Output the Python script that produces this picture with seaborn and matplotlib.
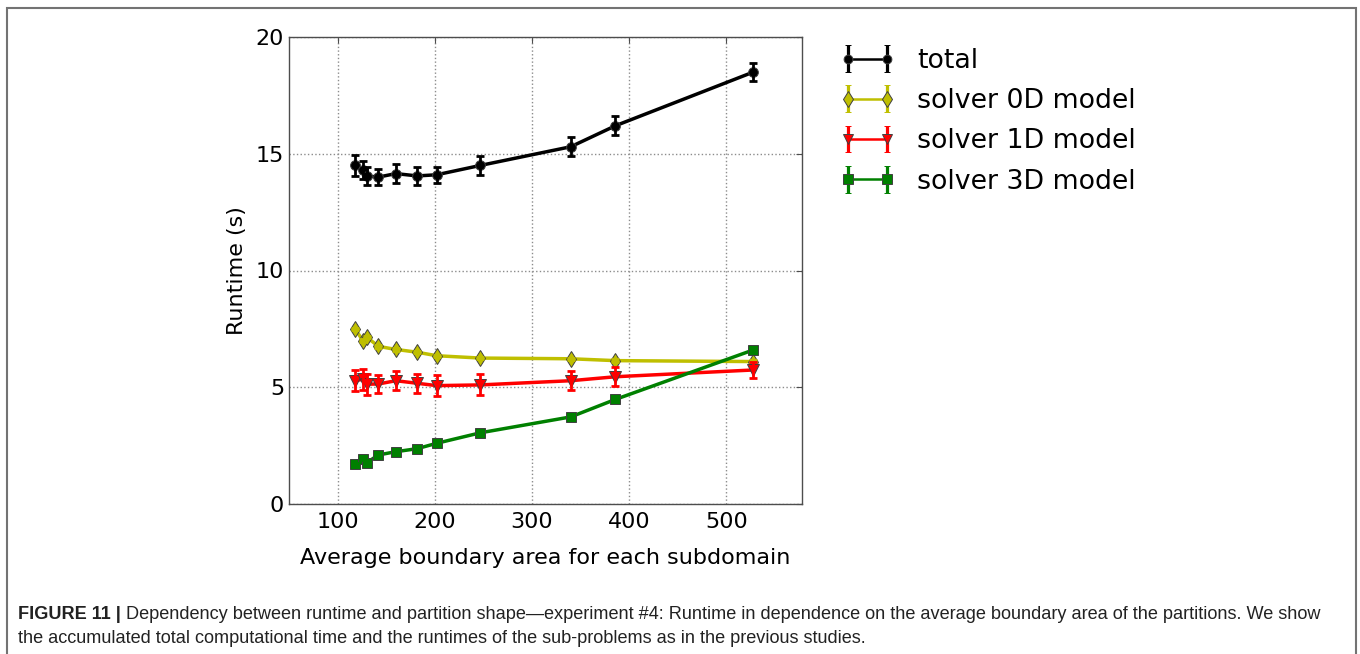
import numpy as np
import pandas as pd
import matplotlib
matplotlib.use("Agg")
import matplotlib.pyplot as plt
import seaborn as sns
from matplotlib.patches import Rectangle

# ================= 数据 =================
area = [118, 126, 130, 142, 160, 182, 202, 247, 340, 386, 528]

total = [14.5, 14.3, 14.05, 14.0, 14.15, 14.05, 14.1, 14.5, 15.3, 16.2, 18.5]
total_err = [0.45, 0.4, 0.4, 0.35, 0.4, 0.4, 0.35, 0.4, 0.4, 0.4, 0.4]

solver_0d = [7.5, 7.0, 7.15, 6.75, 6.62, 6.5, 6.35, 6.25, 6.22, 6.14, 6.1]
solver_0d_err = [0.05] * 11

solver_1d = [5.28, 5.34, 5.13, 5.14, 5.28, 5.17, 5.07, 5.1, 5.28, 5.45, 5.74]
solver_1d_err = [0.45, 0.45, 0.45, 0.4, 0.4, 0.4, 0.45, 0.45, 0.4, 0.4, 0.35]

solver_3d = [1.7, 1.93, 1.77, 2.1, 2.24, 2.37, 2.6, 3.05, 3.73, 4.48, 6.6]
solver_3d_err = [0.05] * 11

x_ticks = [100, 200, 300, 400, 500]
y_ticks = [0, 5, 10, 15, 20]

caption_bold = "FIGURE 11 | "
caption_line1 = ("Dependency between runtime and partition shape\u2014experiment #4: Runtime in "
                 "dependence on the average boundary area of the partitions. We show")
caption_line2 = ("the accumulated total computational time and the runtimes of the "
                 "sub-problems as in the previous studies.")

# ================= 样式 =================
sns.set_style("white")
plt.rcParams['font.family'] = ['DejaVu Sans']
plt.rcParams['axes.unicode_minus'] = False
plt.rcParams['text.color'] = 'black'
plt.rcParams['axes.labelcolor'] = 'black'
plt.rcParams['xtick.color'] = 'black'
plt.rcParams['ytick.color'] = 'black'

series = [
    ("total", total, total_err, "black", "o", 7),
    ("solver 0D model", solver_0d, solver_0d_err, (0.75, 0.75, 0.0), "d", 8.5),
    ("solver 1D model", solver_1d, solver_1d_err, "red", "v", 8),
    ("solver 3D model", solver_3d, solver_3d_err, (0.0, 0.5, 0.0), "s", 7.5),
]

W, H = 1360, 654
fig = plt.figure(figsize=(W / 100, H / 100), dpi=100)
ax = fig.add_axes([289 / W, 1 - 504 / H, (802 - 289) / W, (504 - 37) / H])

handles = []
for name, vals, errs, color, marker, ms in series:
    df = pd.DataFrame({"area": area, "runtime": vals})
    sns.lineplot(data=df, x="area", y="runtime", ax=ax, color=color, marker=marker,
                 markersize=ms, markeredgecolor="0.25", markeredgewidth=0.7,
                 linewidth=2.5, legend=False, errorbar=None)
    ax.errorbar(area, vals, yerr=errs, fmt="none", ecolor=color,
                elinewidth=2, capsize=3, capthick=2)
    # 图例代理
    h = ax.errorbar([np.nan], [np.nan], yerr=[np.nan], fmt="-", marker=marker,
                    color=color, markersize=ms * 0.9, markeredgecolor="0.25",
                    markeredgewidth=0.7, linewidth=1.8, elinewidth=2.3,
                    capsize=2.5, capthick=2.3, label=name)
    handles.append(h)

ax.set_xlim(50, 578)
ax.set_ylim(0, 20)
ax.set_xticks(x_ticks)
ax.set_yticks(y_ticks)
ax.grid(True, color="0.55", linestyle=":", linewidth=1)
ax.tick_params(axis="both", labelsize=16, direction="in", length=4,
               top=True, right=True, color="0.3")
ax.tick_params(axis="x", pad=6)
for sp in ax.spines.values():
    sp.set_color("0.3")
    sp.set_linewidth(1)
ax.set_xlabel("Average boundary area for each subdomain", fontsize=16, labelpad=11)
ax.set_ylabel("Runtime (s)", fontsize=16, labelpad=6)

fig.legend(handles=handles, loc="upper left", bbox_to_anchor=(840 / W, 1 - 48 / H),
           frameon=False, fontsize=19.3, numpoints=2, handlelength=2.05,
           handletextpad=0.82, labelspacing=0.53, borderpad=0, borderaxespad=0)

# 外框
fig.patches.append(Rectangle((7 / W, -0.05), (1356 - 7) / W, 1.05 - 8 / H,
                             transform=fig.transFigure, fill=False,
                             edgecolor="0.45", linewidth=1.5))

# 图注
cap_font = ['Liberation Sans', 'DejaVu Sans']
t_bold = fig.text(18 / W, 1 - 619 / H, caption_bold, fontsize=13.1, fontweight="bold",
                  family=cap_font, va="baseline", ha="left", color="#222222")
fig.canvas.draw()
bb = t_bold.get_window_extent()
fig.text(bb.x1 / W, 1 - 619 / H, caption_line1, fontsize=13.1, family=cap_font,
         va="baseline", ha="left", color="#222222")
fig.text(18 / W, 1 - 643 / H, caption_line2, fontsize=13.1, family=cap_font,
         va="baseline", ha="left", color="#222222")

fig.savefig("out.png", dpi=100)
